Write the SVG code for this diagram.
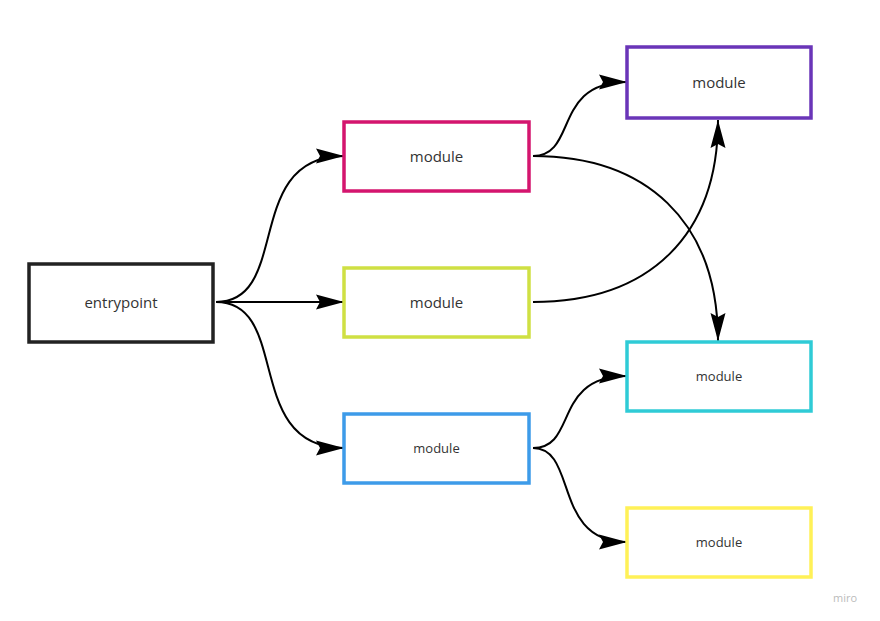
<svg xmlns="http://www.w3.org/2000/svg" width="880" height="621" viewBox="0 0 880 621">
<style>
.box{fill:#fff;stroke-width:3.5}
.lbl{font-family:"Open Sans","Noto Sans",sans-serif;fill:#333;text-anchor:middle;dominant-baseline:central}
.big{font-size:15px}
.sm{font-size:13px}
.conn path{fill:none;stroke:#000;stroke-width:2;marker-end:url(#arr)}
</style>
<defs>
<marker id="arr" markerUnits="userSpaceOnUse" markerWidth="30" markerHeight="18" refX="28" refY="9" orient="auto">
<path d="M0,1.5 L28,9 L0,16.5 L4,9 Z" fill="#000"/>
</marker>
</defs>
<rect width="880" height="621" fill="#fff"/>
<g id="connectors" class="conn">
<path d="M216,302 C292,302 242,156 344,156"/>
<path d="M216,302 L344,302"/>
<path d="M216,302 C292,302 242,448 344,448"/>
<path d="M533,156 C578,156 552,82 627,82"/>
<path d="M533,156 C645,156 718,220 718,341"/>
<path d="M533,302 C650,302 718,235 718,120"/>
<path d="M533,448 C578,448 552,376 627,376"/>
<path d="M533,448 C578,448 552,542 627,542"/>
</g>
<g id="entrypoint"><rect class="box" x="29" y="264" width="184" height="78" stroke="#222"/><text class="lbl big" x="121" y="302">entrypoint</text></g>
<g id="module-magenta"><rect class="box" x="344" y="122" width="185" height="69" stroke="#d4156e"/><text class="lbl big" x="436.5" y="156">module</text></g>
<g id="module-lime"><rect class="box" x="344" y="268" width="185" height="69" stroke="#cfe043"/><text class="lbl big" x="436.5" y="302">module</text></g>
<g id="module-blue"><rect class="box" x="344" y="414" width="185" height="69" stroke="#3d9be9"/><text class="lbl sm" x="436.5" y="448">module</text></g>
<g id="module-purple"><rect class="box" x="627" y="47" width="184" height="71" stroke="#6a35b8"/><text class="lbl big" x="719" y="82">module</text></g>
<g id="module-cyan"><rect class="box" x="627" y="342" width="184" height="69" stroke="#2fcbd6"/><text class="lbl sm" x="719" y="376">module</text></g>
<g id="module-yellow"><rect class="box" x="627" y="508" width="184" height="69" stroke="#fff157"/><text class="lbl sm" x="719" y="542">module</text></g>
<text x="845" y="597" font-family="'Open Sans',sans-serif" font-size="11" fill="#bbb" text-anchor="middle" dominant-baseline="central">miro</text>
</svg>
